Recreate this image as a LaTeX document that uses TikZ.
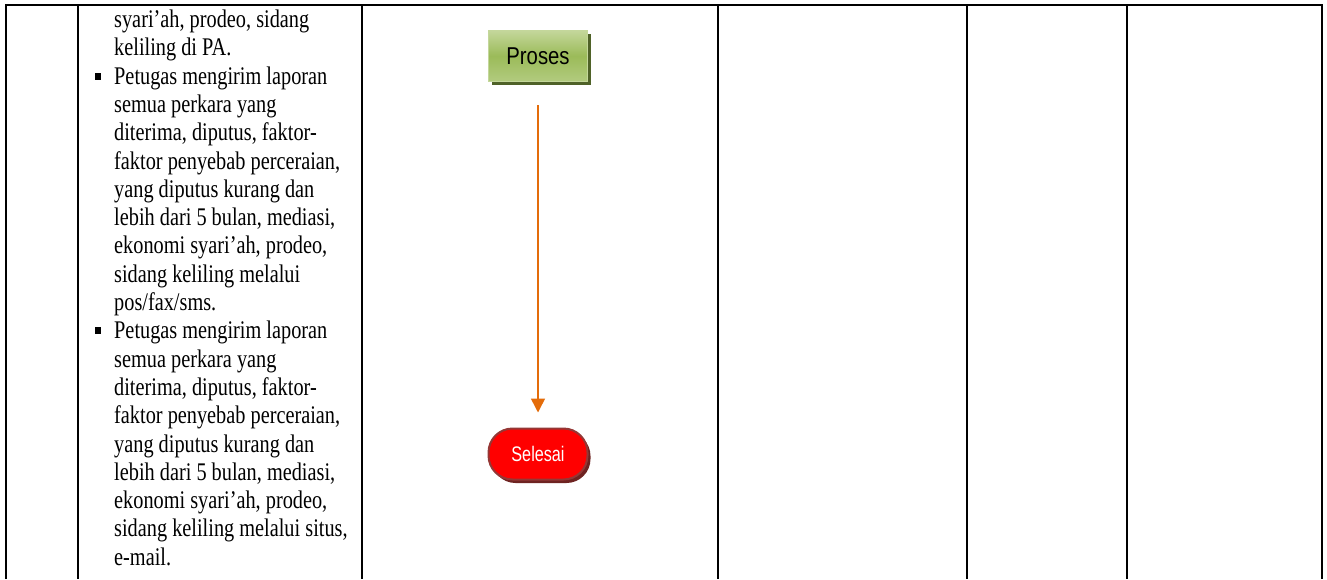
\documentclass[tikz,border=0pt]{standalone}
\usepackage{fontspec}
\setmainfont{Liberation Serif}
\newfontfamily\arialfont{Liberation Sans}
\usetikzlibrary{positioning, arrows.meta, shadows}
\definecolor{procgreen}{RGB}{155,187,89}
\definecolor{proctop}{RGB}{196,215,155}
\definecolor{procbottom}{RGB}{178,203,127}
\definecolor{procshadow}{RGB}{79,98,40}
\definecolor{endborder}{RGB}{149,55,53}
\definecolor{endshadow}{RGB}{110,35,33}
\definecolor{flowline}{RGB}{228,108,10}
\begin{document}
\begin{tikzpicture}[x=1pt,y=-1pt,
    lane/.style={line width=1.4pt},
    rowtext/.style={anchor=base west, inner sep=0pt, font=\fontsize{20.3}{24}\selectfont},
    bulletbox/.style={fill=black, minimum width=6pt, minimum height=6.8pt, inner sep=0pt},
    procbox/.style={draw=proctop, line width=1.5pt, top color=proctop, bottom color=procbottom, middle color=procgreen,
      minimum width=99pt, minimum height=51pt, font=\arialfont\fontsize{20.3}{24}\selectfont,
      drop shadow={shadow xshift=3pt, shadow yshift=-3pt, fill=procshadow, opacity=1}},
    endbox/.style={draw=endborder, line width=2pt, fill=red, rounded corners=24pt, text=white,
      minimum width=99pt, minimum height=51pt, font=\arialfont\fontsize{16.2}{20}\selectfont,
      drop shadow={shadow xshift=3pt, shadow yshift=-3.5pt, fill=endshadow, opacity=1}},
    flow/.style={draw=flowline, line width=1.5pt, -{Triangle[width=14pt,length=14pt]}}]
  \useasboundingbox (0,0) rectangle (1327,579);
  % table lines
  \draw[lane] (6,579) -- (6,5) -- (1322,5) -- (1322,579);
  \foreach \x in {78,362,718,1127} \draw[lane] (\x,5) -- (\x,579);
  \draw[line width=2pt] (967,5) -- (967,579);
  % text column
  \foreach \t [count=\i] in {{syari’ah, prodeo, sidang}, {keliling di PA.}, {Petugas mengirim laporan},
      {semua perkara yang}, {diterima, diputus, faktor-}, {faktor penyebab perceraian,},
      {yang diputus kurang dan}, {lebih dari 5 bulan, mediasi,}, {ekonomi syari’ah, prodeo,},
      {sidang keliling melalui}, {pos/fax/sms.}, {Petugas mengirim laporan}, {semua perkara yang},
      {diterima, diputus, faktor-}, {faktor penyebab perceraian,}, {yang diputus kurang dan},
      {lebih dari 5 bulan, mediasi,}, {ekonomi syari’ah, prodeo,}, {sidang keliling melalui situs,},
      {e-mail.}}
    \node[rowtext] (ln\i) at (114,{27.5+28.3*(\i-1)}) {\scalebox{1}[1.25]{\t}};
  \node[bulletbox] (bulA) at (98,{27.5+28.3*2-8}) {};
  \node[bulletbox] (bulB) at (98,{27.5+28.3*11-8}) {};
  % flow
  \node[procbox] (proses) at (538,56) {\scalebox{1}[1.2]{Proses}};
  \node[endbox] (selesai) at (538,454) {\scalebox{1}[1.3]{Selesai}};
  \draw[flow, shorten <=23pt, shorten >=15pt] (proses) -- (selesai);
\end{tikzpicture}
\end{document}
